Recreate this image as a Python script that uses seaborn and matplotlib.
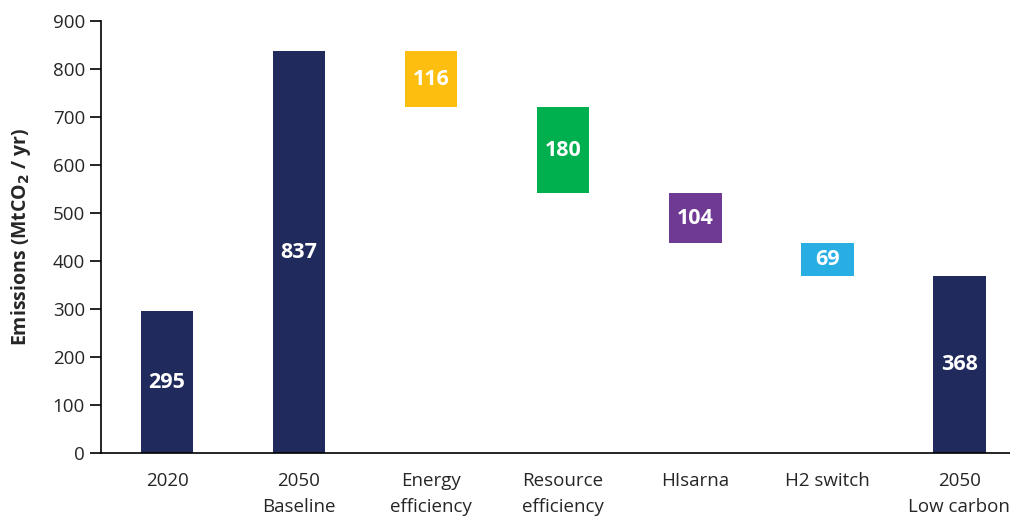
import matplotlib
matplotlib.use("Agg")
import matplotlib.pyplot as plt
import seaborn as sns

# Waterfall data (MtCO2 / yr)
categories = ["2020", "2050\nBaseline", "Energy\nefficiency", "Resource\nefficiency",
              "HIsarna", "H2 switch", "2050\nLow carbon"]
values = [295, 837, 116, 180, 104, 69, 368]
bottoms = [0, 0, 721, 541, 437, 368, 0]
colors = ["#202A5C", "#202A5C", "#FDBE10", "#00B04F", "#6E3A93", "#29AEE4", "#202A5C"]

sns.set_style("white")
plt.rcParams["font.family"] = ["Open Sans", "DejaVu Sans"]

fig = plt.figure(figsize=(10.1, 5.18), dpi=100)
ax = fig.add_axes([0.1, 0.1255, 0.915, 0.834])

sns.barplot(x=categories, y=values, bottom=bottoms, width=0.4, color=colors[0],
            saturation=1, ax=ax)
for patch, c in zip(ax.patches, colors):
    patch.set_facecolor(c)
    patch.set_edgecolor("none")

# value labels inside bars
for patch, v in zip(ax.patches, values):
    cx = patch.get_x() + patch.get_width() / 2
    cy = patch.get_y() + patch.get_height() / 2
    ax.text(cx, cy, str(v), ha="center", va="center", color="white",
            fontsize=15.5, fontweight="bold")

ax.set_ylim(0, 900)
ax.set_xlim(-0.5, 6.5)
ax.set_yticks(range(0, 901, 100))
ax.set_ylabel(r"Emissions (MtCO$_\mathbf{2}$ / yr)", fontsize=14, fontweight="bold",
              labelpad=14)

# ticks between categories on the x axis
ax.set_xticks([i - 0.5 for i in range(7)], minor=True)
ax.tick_params(axis="x", which="major", length=0, labelsize=13.5, pad=14)
ax.tick_params(axis="x", which="minor", length=8, width=1.2, direction="out", color="black")
ax.tick_params(axis="y", length=8, width=1.2, direction="out", labelsize=13.5, color="black",
               left=True)
for lbl in ax.get_xticklabels():
    lbl.set_linespacing(1.55)

for side in ["top", "right"]:
    ax.spines[side].set_visible(False)
for side in ["left", "bottom"]:
    ax.spines[side].set_color("black")
    ax.spines[side].set_linewidth(1.2)

fig.savefig("out.png", dpi=100)
